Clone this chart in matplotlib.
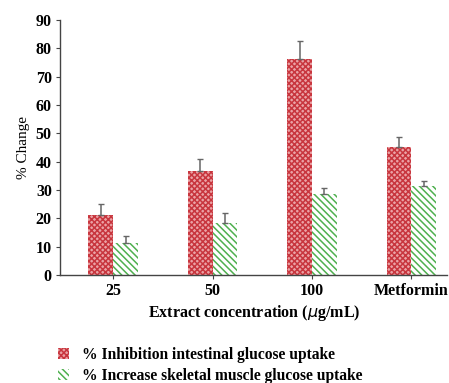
import numpy as np
import matplotlib.pyplot as plt

# дані
categories = ['25', '50', '100', 'Metformin']
inhibition = [21.3, 36.6, 76.2, 45.1]
inhibition_err = [3.7, 4.3, 6.2, 3.6]
increase = [11.3, 18.5, 28.5, 31.3]
increase_err = [2.6, 3.3, 2.1, 2.0]

plt.rcParams['font.family'] = ['Liberation Serif', 'DejaVu Serif']
plt.rcParams['hatch.linewidth'] = 1.1

fig = plt.figure(figsize=(4.49, 3.83), dpi=100)
ax = fig.add_axes([0.134, 0.282, 0.862, 0.666])

x = np.arange(len(categories))
w = 0.25

b1 = ax.bar(x - w / 2, inhibition, w, color='#eba2a5', edgecolor='#c8363e',
            hatch='xxxxxx', linewidth=0, label='% Inhibition intestinal glucose uptake')
b2 = ax.bar(x + w / 2, increase, w, color='white', edgecolor='#4fb04f',
            hatch='\\\\\\\\\\', linewidth=0, label='% Increase skeletal muscle glucose uptake')

ax.errorbar(x - w / 2, inhibition, yerr=[np.zeros(4), inhibition_err], fmt='none',
            ecolor='#666666', elinewidth=1.1, capsize=2, capthick=1)
ax.errorbar(x + w / 2, increase, yerr=[np.zeros(4), increase_err], fmt='none',
            ecolor='#666666', elinewidth=1.1, capsize=2, capthick=1)

ax.set_xlim(-0.534, 3.36)
ax.set_ylim(0, 90)
ax.set_yticks(range(0, 91, 10))
ax.set_xticks(x)
ax.set_xticklabels(categories)

for s in ['top', 'right']:
    ax.spines[s].set_visible(False)
for s in ['left', 'bottom']:
    ax.spines[s].set_color('#444444')
    ax.spines[s].set_linewidth(1.0)

ax.tick_params(axis='both', length=3, color='#444444', labelsize=11.5, pad=3)
for lab in ax.get_xticklabels() + ax.get_yticklabels():
    lab.set_fontweight('bold')

ax.set_ylabel('% Change', fontsize=11)
ax.set_xlabel('Extract concentration ($\\mu$g/mL)', fontsize=11.5, fontweight='bold', labelpad=3)

fig.legend(handles=[b1, b2], loc='upper left', bbox_to_anchor=(0.13, 0.095),
           frameon=False, prop={'weight': 'bold', 'size': 11.2},
           handlelength=0.7, handleheight=0.7, handletextpad=0.8, labelspacing=0.35,
           borderaxespad=0, borderpad=0)

fig.savefig('out.png', dpi=100)
